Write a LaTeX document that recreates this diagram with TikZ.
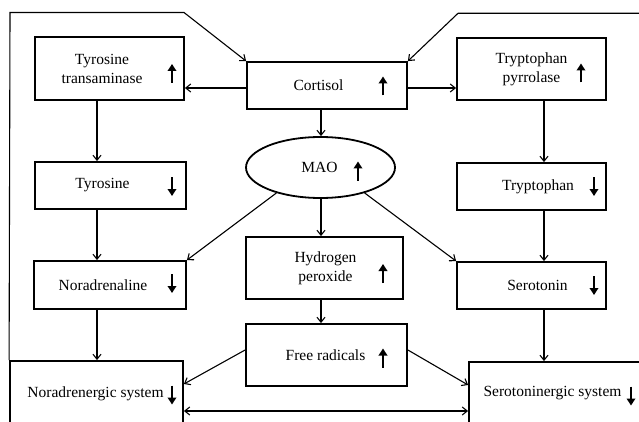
\documentclass[tikz,border=0pt]{standalone}
\usepackage{fontspec}
\setmainfont{Liberation Serif}
\usetikzlibrary{arrows.meta,
                shapes.geometric}

\begin{document}
\begin{tikzpicture}[x=1pt, y=-1pt,
box/.style = {draw, line width=1.8pt, inner sep=0pt},
every label/.style = {align=center,
                      font=\fontsize{15.5}{19}\selectfont},
conn/.style = {line width=1.1pt, -{Straight Barb[length=5pt,width=8pt]}},
updown/.style = {line width=2.6pt, -{Triangle[length=7pt,width=8.5pt]}}
                ]
\useasboundingbox (0,0) rectangle (639,422);
%% top row
\node (tt) [box, minimum width=149, minimum height=63,
            label={[xshift=-7.5]center:Tyrosine\\transaminase}] at (109.5,68.5) {};
\node (cort) [box, minimum width=160, minimum height=47,
              label={[xshift=-8.5]center:Cortisol}] at (327,85.5) {};
\node (tp) [box, minimum width=149, minimum height=62,
            label={center:Tryptophan\\pyrrolase}] at (531.5,69) {};
%% middle rows
\node (tyr) [box, minimum width=151, minimum height=47,
             label={[xshift=-8]center:Tyrosine}] at (110.5,185.5) {};
\node (mao) [box, ellipse, minimum width=149, minimum height=61,
             label={[xshift=-1]center:MAO}] at (320.5,167.5) {};
\node (trp) [box, minimum width=149, minimum height=47,
             label={[xshift=6.5]center:Tryptophan}] at (531.5,186.5) {};
\node (nor) [box, minimum width=152, minimum height=48,
             label={[xshift=-7]center:Noradrenaline}] at (110,285) {};
\node (hp) [box, minimum width=157, minimum height=62,
            label={[xshift=1]center:Hydrogen\\peroxide}] at (324.5,268) {};
\node (ser) [box, minimum width=149, minimum height=47,
             label={[xshift=6]center:Serotonin}] at (531.5,285.5) {};
\node (fr) [box, minimum width=161, minimum height=62,
            label={[xshift=-1]center:Free radicals}] at (326.5,355) {};
%% bottom row
\node (nsys) [box, minimum width=173, minimum height=69,
              label={[xshift=-1,yshift=2]center:Noradrenergic system}] at (96.5,395.5) {};
\node (ssys) [box, minimum width=176, minimum height=68,
              label={[xshift=-4.5,yshift=3]center:Serotoninergic system}] at (557,396) {};
%% up and down marks
\foreach \x/\y in {172/73.5, 383/86, 581/73, 358/171, 383/273.5, 383/358}
    \draw[updown] (\x,\y+9.5) -- (\x,\y-9.5);
\foreach \x/\y in {172/186.5, 594/186.5, 172/283.5, 594/285.5, 172/395, 631/396}
    \draw[updown] (\x,\y-9.5) -- (\x,\y+9.5);
%% connectors
\coordinate (lcol) at (97,0);
\coordinate (rcol) at (544,0);
\coordinate (mcol) at (321,0);
\coordinate (crow) at (0,88);
\coordinate (brow) at (0,411);
\coordinate (tl) at (10,12.5);
\coordinate (tlb) at (184,12.5);
\coordinate (tr) at (645,13.3);
\coordinate (trb) at (458,13.3);
\draw[conn] (cort.west |- crow) -- (tt.east |- crow);
\draw[conn] (cort.east |- crow) -- (tp.west |- crow);
\draw[conn] (cort.south -| mcol) -- (mao.north -| mcol);
\draw[conn] (mao.south -| mcol) -- (hp.north -| mcol);
\draw[conn] (hp.south -| mcol) -- (fr.north -| mcol);
\draw[conn] (mao.210) -- (nor.north east);
\draw[conn] (mao.-30) -- (ser.north west);
\foreach \a/\b in {tt/tyr, tyr/nor, nor/nsys}
    \draw[conn] (\a.south -| lcol) -- (\b.north -| lcol);
\foreach \a/\b in {tp/trp, trp/ser, ser/ssys}
    \draw[conn] (\a.south -| rcol) -- (\b.north -| rcol);
\draw[conn] ([yshift=5]fr.west) -- ([yshift=11.5]nsys.east);
\draw[conn] ([yshift=5]fr.east) -- ([yshift=11]ssys.west);
\draw[conn, {Straight Barb[length=5pt,width=8pt]}-{Straight Barb[length=5pt,width=8pt]}]
    (nsys.east |- brow) -- (ssys.west |- brow);
\draw[conn] (nsys.north west) -- (tl) -- (tlb) -- (cort.north west);
\draw[conn] (ssys.north east) -- (tr) -- (trb) -- (cort.north east);
\end{tikzpicture}
\end{document}
